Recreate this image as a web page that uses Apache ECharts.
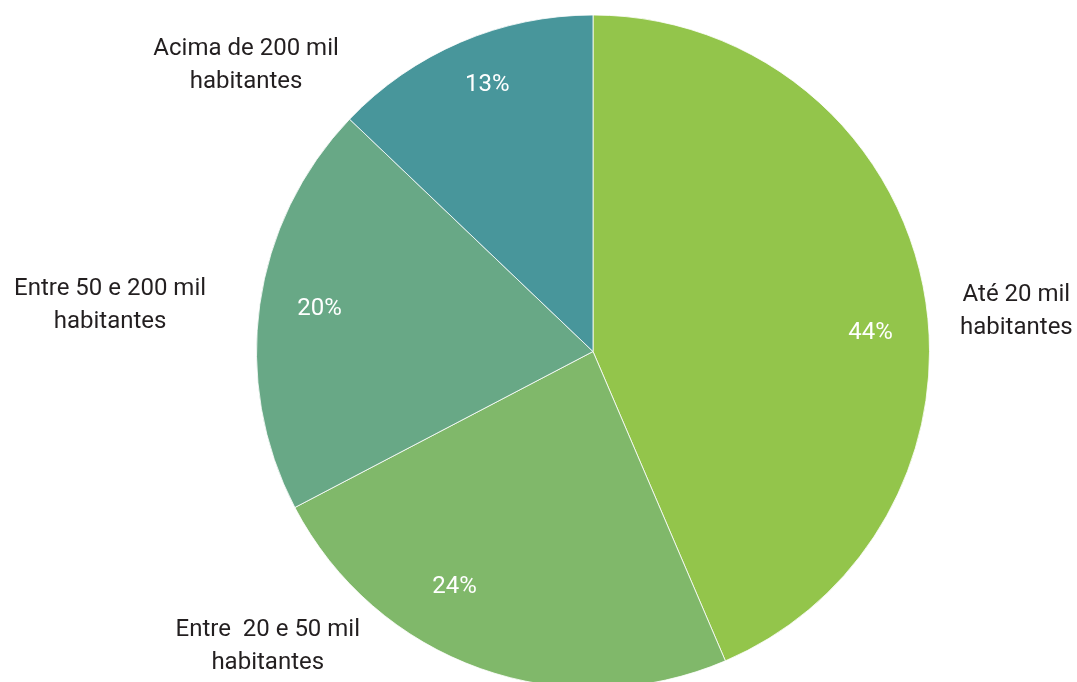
<!DOCTYPE html>
<html>
<head>
<meta charset="utf-8">
<script src="https://cdn.jsdelivr.net/npm/echarts@6/dist/echarts.min.js"></script>
<style>
  html, body { margin: 0; padding: 0; background: #ffffff; }
  #chart { width: 1077px; height: 682px; }
</style>
</head>
<body>
<div id="chart"></div>
<script>
// Population bands of the municipalities and their share (%)
const categories = [
  'Até 20 mil\nhabitantes',
  'Entre  20 e 50 mil\nhabitantes',
  'Entre 50 e 200 mil\nhabitantes',
  'Acima de 200 mil\nhabitantes'
];
const shares = [44, 24, 20, 13];
const sliceColors = ['#93C54B', '#80B86A', '#68A886', '#48969B'];

// Small nudges (px) applied on top of the default pie label placement
const nameNudge = [[3, 34], [-105, -50], [-19, 5], [-105, 51]];
const pctNudge = [[2, 38], [-44, -29], [5, -3], [5, -8]];

const pieCenter = [593, 351.5];
const pieRadius = 336.5;

const chart = echarts.init(document.getElementById('chart'), null, { renderer: 'canvas' });

const sliceData = categories.map((name, i) => ({
  name: name,
  value: shares[i],
  itemStyle: { color: sliceColors[i] }
}));

chart.setOption({
  animation: false,
  backgroundColor: '#ffffff',
  series: [
    {
      // the pie itself, with the band names outside
      type: 'pie',
      center: pieCenter,
      radius: pieRadius,
      startAngle: 90,
      clockwise: true,
      silent: true,
      avoidLabelOverlap: false,
      data: sliceData,
      itemStyle: { borderColor: '#ffffff', borderWidth: 0.8 },
      emphasis: { disabled: true },
      label: {
        show: true,
        position: 'outside',
        formatter: '{b}',
        color: '#231F20',
        fontFamily: 'Roboto',
        fontSize: 24,
        lineHeight: 33
      },
      labelLine: { show: false, length: 30, length2: 0 },
      labelLayout: function (p) {
        const n = nameNudge[p.dataIndex];
        const r = p.labelRect;
        return {
          x: r.x + r.width / 2 + n[0],
          y: r.y + r.height / 2 + n[1],
          align: 'center',
          verticalAlign: 'middle'
        };
      }
    },
    {
      // transparent ring carrying the percentage labels
      type: 'pie',
      center: pieCenter,
      radius: [220, pieRadius],
      startAngle: 90,
      clockwise: true,
      silent: true,
      avoidLabelOverlap: false,
      data: categories.map((name, i) => ({ name: name, value: shares[i] })),
      itemStyle: { color: 'rgba(0,0,0,0)', borderWidth: 0 },
      emphasis: { disabled: true },
      label: {
        show: true,
        position: 'inside',
        formatter: '{c}%',
        color: '#ffffff',
        fontFamily: 'Roboto',
        fontWeight: 400,
        fontSize: 24
      },
      labelLine: { show: false },
      labelLayout: function (p) {
        const n = pctNudge[p.dataIndex];
        return { dx: n[0], dy: n[1] };
      }
    }
  ]
});
</script>
</body>
</html>
